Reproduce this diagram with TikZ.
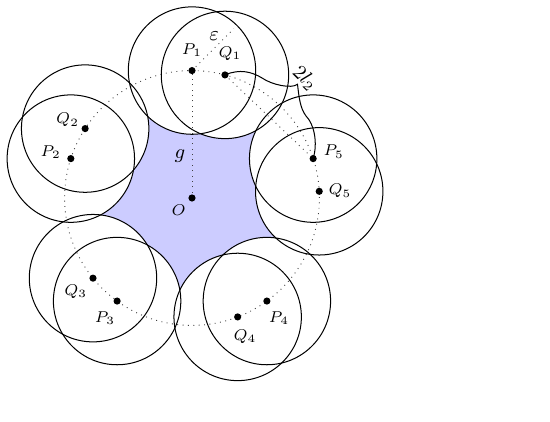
\documentclass[tikz,border=0pt]{standalone}
\usetikzlibrary{calc}
\begin{document}
\begin{tikzpicture}[x=1cm,y=1cm,
  ptdot/.style={circle,fill=black,inner sep=0pt,minimum size=3.2pt},
  lab/.style={inner sep=0pt,font=\scriptsize},
  biglab/.style={inner sep=0pt,font=\small},
  guide/.style={dotted,black!75},
  disk/.style={draw=black,line width=0.45pt}]
\useasboundingbox (-3.014,-3.501) rectangle (5.620,3.108);
% points
\coordinate (O) at (0,0);
\foreach \i/\a in {1/90,2/162,3/234,4/306,5/18}{
  \coordinate (P\i) at (\a:2);
  \pgfmathsetmacro{\b}{\a-15}
  \coordinate (Q\i) at (\b:2);
}
% blue region
\fill[blue!20] (O) circle (2);
\foreach \i in {1,...,5}{
  \fill[white] (P\i) circle (1);
  \fill[white] (Q\i) circle (1);
}
% dotted guides
\draw[guide] (O) circle (2);
\draw[guide] (O) -- (P1);
\coordinate (E) at ($(P1)+(45:0.93)$);
\draw[guide] (P1) -- (E);
\draw[guide] (Q1) -- (P5);
% circles
\foreach \i in {1,...,5}{
  \draw[disk] (P\i) circle (1);
  \draw[disk] (Q\i) circle (1);
}
% brace
\coordinate (T) at (1.656,1.785);
\coordinate (M1) at (1.099,1.884);
\coordinate (M2) at (1.790,1.287);
\draw[disk] (Q1) .. controls (0.754,2.033) and (0.942,1.978) .. (M1)
  .. controls (1.256,1.774) and (1.570,1.711) .. (T)
  .. controls (1.680,1.586) and (1.695,1.413) .. (M2)
  .. controls (1.916,1.162) and (1.978,0.870) .. (P5);
% dots
\foreach \i in {1,...,5}{
  \node[ptdot] (p\i) at (P\i) {};
  \node[ptdot] (q\i) at (Q\i) {};
}
\node[ptdot] (o) at (O) {};
% labels
\node[lab] (lP1) at (0.0,2.325) {$P_1$};
\node[lab] (lQ1) at (0.597,2.272) {$Q_1$};
\node[lab] (lQ2) at (-1.952,1.225) {$Q_2$};
\node[lab] (lP2) at (-2.218,0.717) {$P_2$};
\node[lab] (lQ3) at (-1.826,-1.471) {$Q_3$};
\node[lab] (lP3) at (-1.366,-1.889) {$P_3$};
\node[lab] (lQ4) at (0.832,-2.177) {$Q_4$};
\node[lab] (lP4) at (1.366,-1.889) {$P_4$};
\node[lab] (lP5) at (2.224,0.727) {$P_5$};
\node[lab] (lQ5) at (2.323,0.110) {$Q_5$};
\node[lab] (lO) at (-0.209,-0.188) {$O$};
\node[biglab] (lg) at (-0.188,0.659) {$g$};
\node[biglab] (le) at (0.350,2.543) {$\varepsilon$};
\node[biglab,rotate=-45] (ll) at (1.774,1.880) {$2l_2$};
\end{tikzpicture}
\end{document}
